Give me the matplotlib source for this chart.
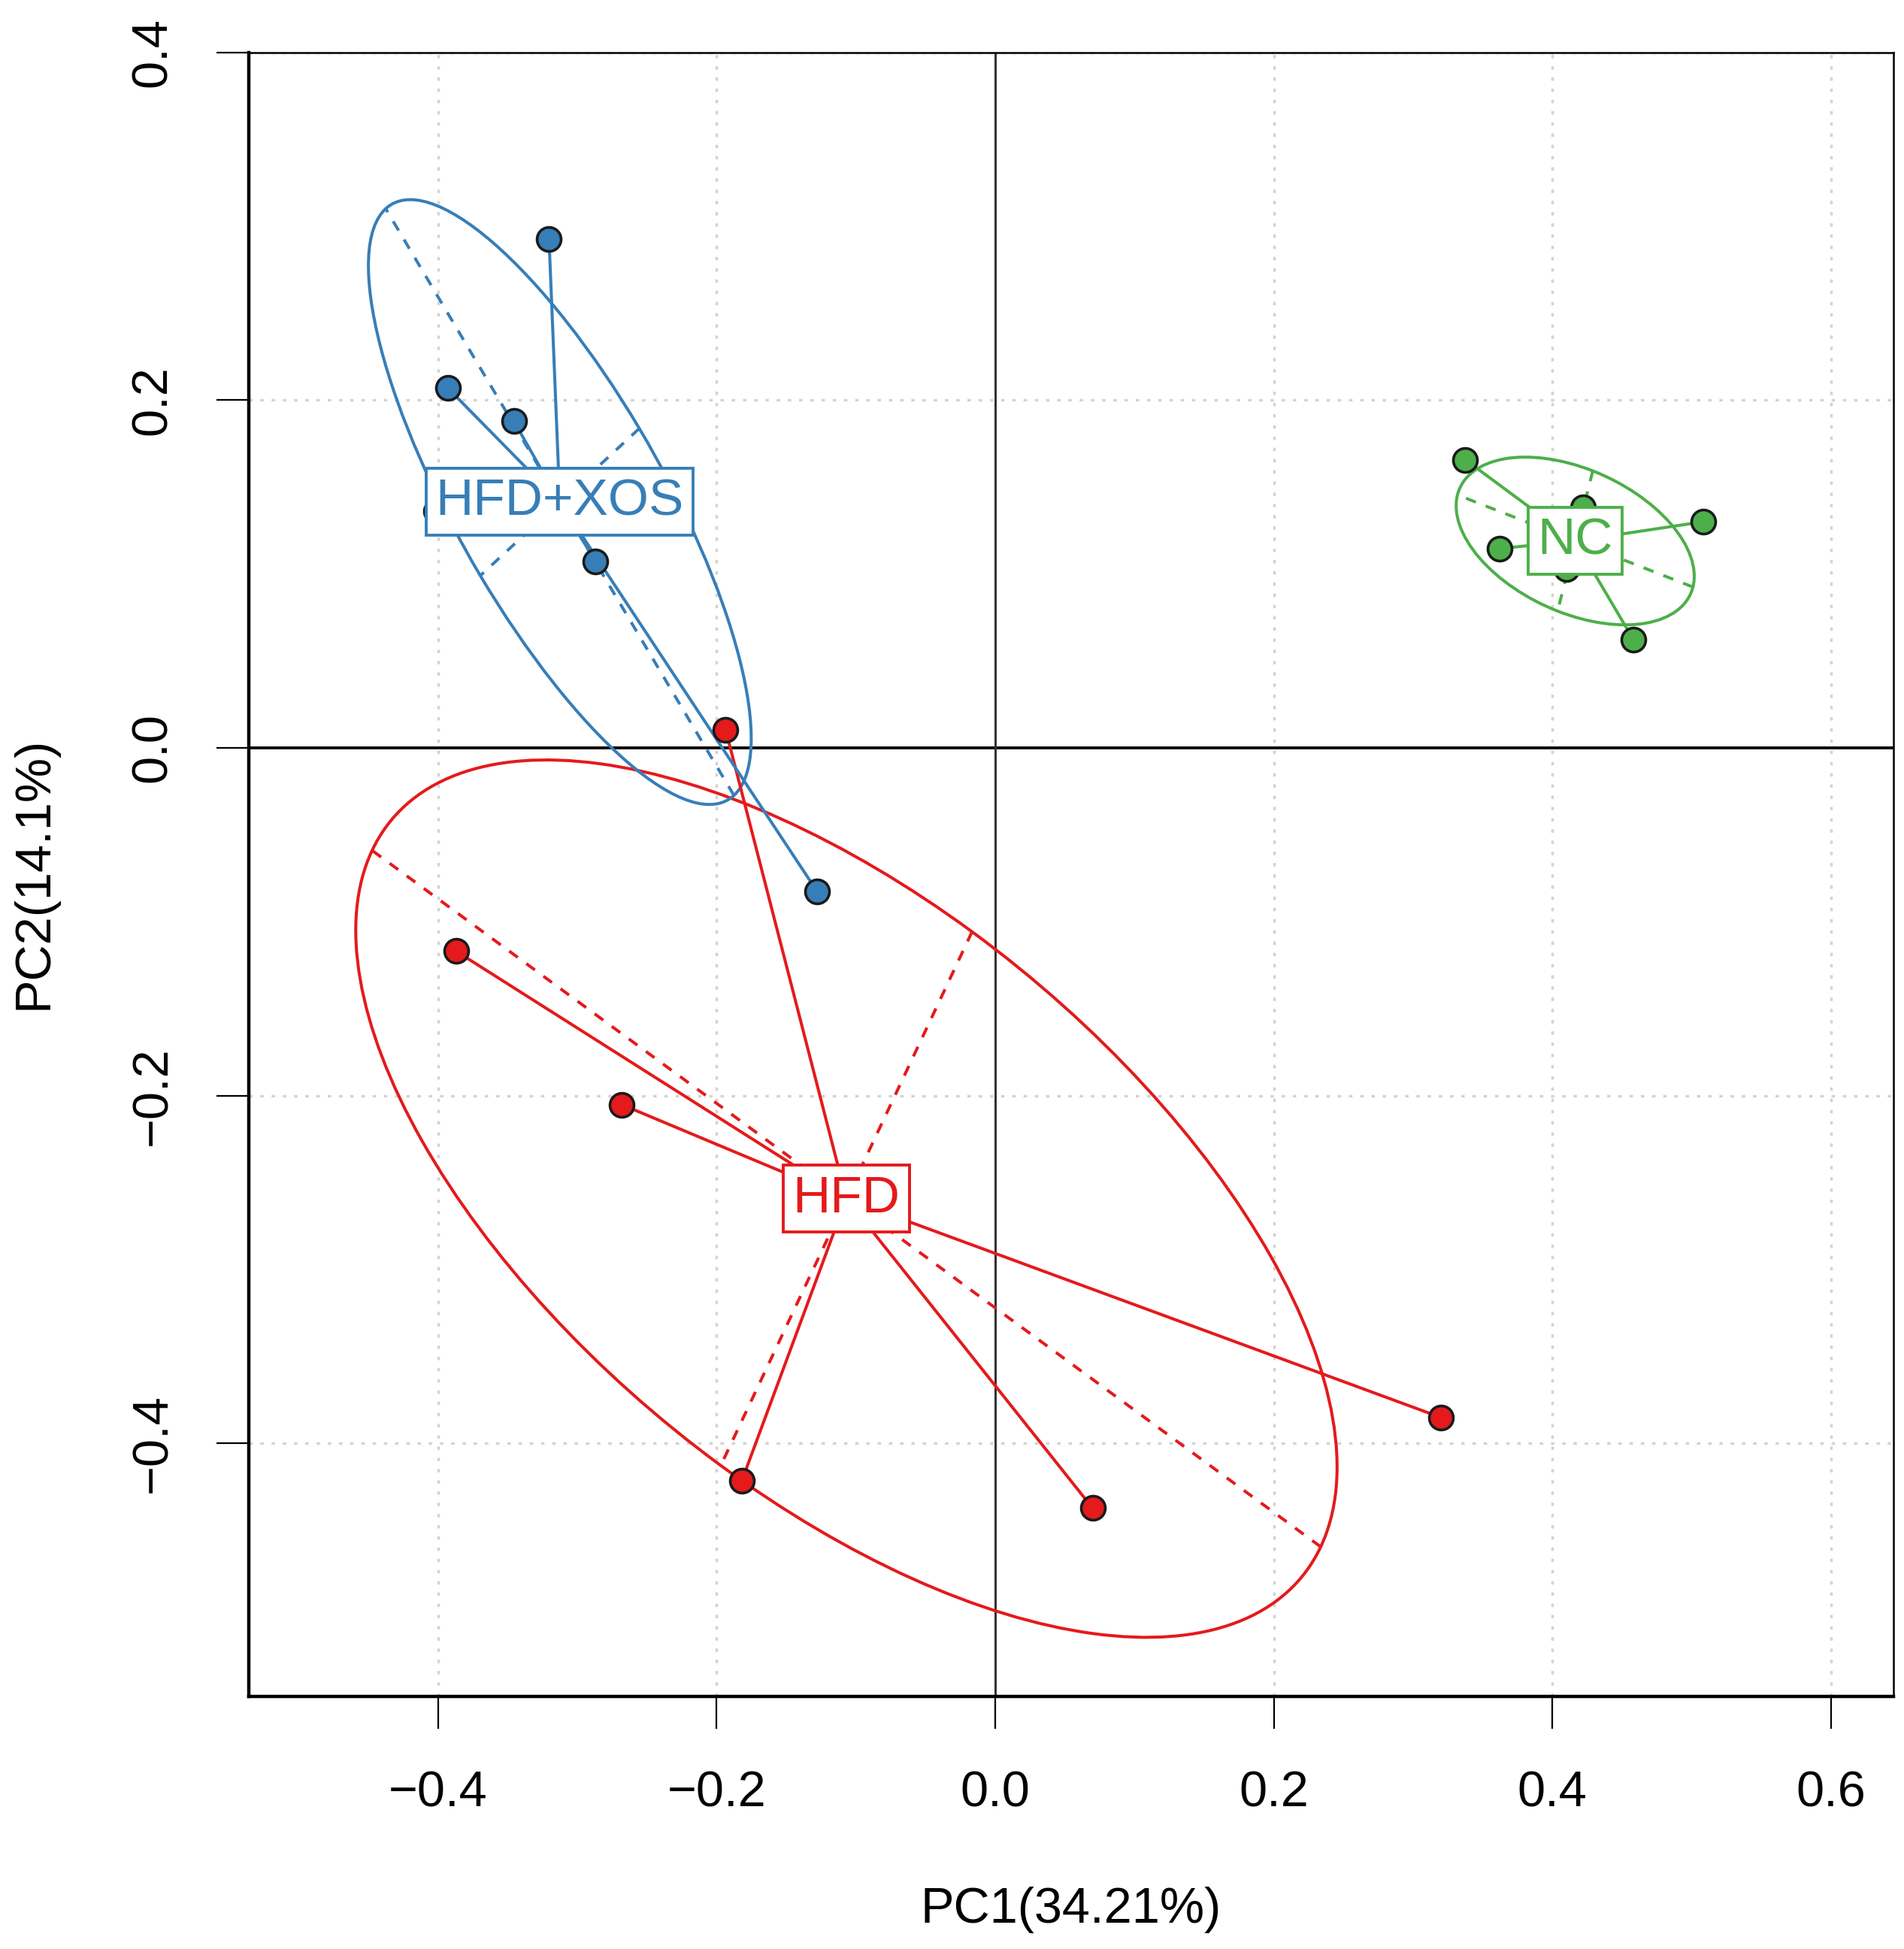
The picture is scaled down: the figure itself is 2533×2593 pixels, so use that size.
import numpy as np
import matplotlib
matplotlib.use('Agg')
import matplotlib.pyplot as plt
from matplotlib.patches import Ellipse

# group names, colours and sample scores
groups = ['HFD', 'HFD+XOS', 'NC']
colors = ['#E41A1C', '#377EB8', '#4DAF4A']

hfd_pc1 = [-0.1936, -0.3872, -0.2681, -0.1820, 0.0699, 0.3198]
hfd_pc2 = [0.0104, -0.1169, -0.2052, -0.4215, -0.4372, -0.3850]
xos_pc1 = [-0.3204, -0.3931, -0.3456, -0.4018, -0.2873, -0.1278]
xos_pc2 = [0.2924, 0.2069, 0.1878, 0.1363, 0.1073, -0.0827]
nc_pc1 = [0.3375, 0.4223, 0.5084, 0.3620, 0.4101, 0.4584]
nc_pc2 = [0.1657, 0.1384, 0.1300, 0.1146, 0.1030, 0.0620]

xticks = [-0.4, -0.2, 0.0, 0.2, 0.4, 0.6]
yticks = [-0.4, -0.2, 0.0, 0.2, 0.4]
xlab = 'PC1(34.21%)'
ylab = 'PC2(14.1%)'

plt.rcParams['font.family'] = ['Liberation Sans', 'DejaVu Sans']
fs = 48
my_dpi = 100
lw = 2.9

fig = plt.figure(figsize=(2533/my_dpi, 2593/my_dpi), dpi=my_dpi)
ax = fig.add_axes([331/2533, 1-2257/2593, (2519-331)/2533, (2257-69.5)/2593])
ax.set_xlim(-0.536, 0.645)
ax.set_ylim(-0.5455, 0.4)

# dotted grid + zero lines
for gx in xticks:
    if gx != 0.0:
        ax.axvline(gx, color='#D3D3D3', lw=2.5, linestyle=(0, (1.3, 3)), zorder=0)
for gy in yticks:
    if gy != 0.0:
        ax.axhline(gy, color='#D3D3D3', lw=2.5, linestyle=(0, (1.3, 3)), zorder=0)
ax.axhline(0, color='black', lw=2.8, zorder=1)
ax.axvline(0, color='#333333', lw=2.2, zorder=1)

def ell(x, y, k=1.5):
    x = np.asarray(x); y = np.asarray(y)
    mx, my = x.mean(), y.mean()
    cov = np.cov(x, y, bias=True)
    vals, vecs = np.linalg.eigh(cov)
    a = k*np.sqrt(vals[1]); b = k*np.sqrt(vals[0])
    return mx, my, a, b, vecs[:, 1], vecs[:, 0]

data = [(hfd_pc1, hfd_pc2), (xos_pc1, xos_pc2), (nc_pc1, nc_pc2)]
cents = []
for (px, py), c in zip(data, colors):
    mx, my, a, b, v1, v2 = ell(px, py)
    cents.append((mx, my))
    ang = np.degrees(np.arctan2(v1[1], v1[0]))
    ax.add_patch(Ellipse((mx, my), 2*a, 2*b, angle=ang, fill=False, ec=c, lw=lw, zorder=2))
    ax.plot([mx-a*v1[0], mx+a*v1[0]], [my-a*v1[1], my+a*v1[1]], color=c, lw=lw,
            linestyle=(0, (3.5, 3.5)), zorder=2)
    ax.plot([mx-b*v2[0], mx+b*v2[0]], [my-b*v2[1], my+b*v2[1]], color=c, lw=lw,
            linestyle=(0, (3.5, 3.5)), zorder=2)
    for xi, yi in zip(px, py):
        ax.plot([mx, xi], [my, yi], color=c, lw=lw, zorder=3)

for (px, py), c in zip(data, colors):
    ax.plot(px, py, linestyle='none', marker='o', ms=23, mfc=c, mec='#1a1a1a', mew=2.6, zorder=4)

for (mx, my), g, c in zip(cents, groups, colors):
    ax.text(mx, my, g, ha='center', va='center', color=c, fontsize=50, zorder=6,
            bbox=dict(boxstyle='square,pad=0.18', fc='white', ec=c, lw=2.8))

ax.set_xticks(xticks)
ax.set_yticks(yticks)
ax.set_xticklabels(['\u22120.4', '\u22120.2', '0.0', '0.2', '0.4', '0.6'])
ax.set_yticklabels(['\u22120.4', '\u22120.2', '0.0', '0.2', '0.4'])
ax.tick_params(axis='both', direction='out', length=31, width=1.6, labelsize=fs, color='black')
ax.tick_params(axis='x', pad=40)
ax.tick_params(axis='y', pad=38)
for lab in ax.get_yticklabels():
    lab.set_rotation(90)
    lab.set_va('center')

for s in ['left', 'bottom']:
    ax.spines[s].set_linewidth(3.2)
for s in ['top', 'right']:
    ax.spines[s].set_linewidth(1.8)

fig.text((331+2519)/2/2533, 1-2541/2593, xlab, ha='center', va='center', fontsize=fs)
fig.text(46/2533, 1-1161/2593, ylab, ha='center', va='center', rotation=90, fontsize=fs)

fig.savefig('out.png', dpi=my_dpi)
plt.close()
